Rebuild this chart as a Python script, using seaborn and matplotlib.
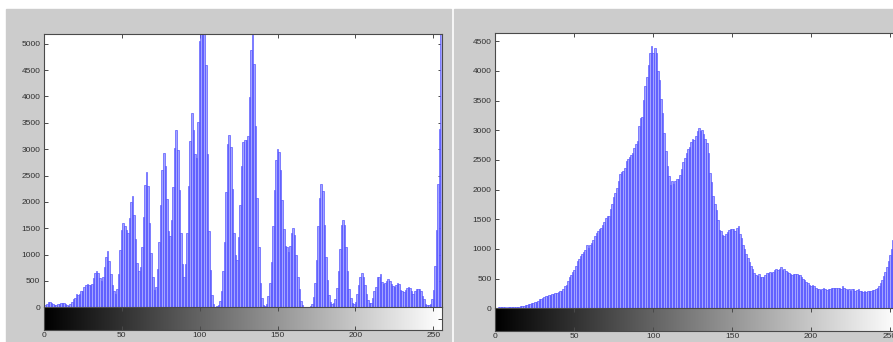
import numpy as np
import matplotlib
matplotlib.use("Agg")
import matplotlib.pyplot as plt
import seaborn as sns
from matplotlib.patches import Rectangle

# grey levels 0..255
levels = np.arange(256)

# left histogram (pixel counts per grey level)
counts_left = [
    40, 50, 60, 100, 110, 90, 60, 40, 50, 60,
    70, 90, 90, 80, 60, 40, 30, 60, 100, 160,
    180, 250, 230, 250, 300, 300, 380, 430, 440, 420,
    420, 450, 560, 650, 680, 650, 560, 500, 580, 760,
    950, 1060, 880, 640, 420, 300, 250, 350, 640, 1080,
    1470, 1600, 1550, 1460, 1400, 1700, 2000, 2120, 1760, 1300,
    840, 680, 770, 1140, 1720, 2320, 2570, 2300, 1600, 1030,
    580, 330, 380, 720, 1240, 1950, 2600, 2920, 2680, 2050,
    1450, 1360, 1650, 2280, 3020, 3360, 2980, 2230, 1410, 820,
    580, 830, 1400, 2300, 3150, 3680, 3360, 2900, 2830, 3520,
    5050, 5600, 5800, 5300, 4600, 2900, 1450, 700, 240, 60,
    10, 20, 40, 120, 300, 680, 1240, 2180, 3090, 3260,
    3050, 2240, 1400, 1000, 900, 1330, 1950, 2680, 3140, 3180,
    3170, 3240, 3980, 4880, 5180, 4620, 3430, 2080, 1150, 460,
    180, 50, 20, 60, 220, 470, 850, 1540, 2220, 2790,
    3000, 2950, 2600, 2040, 1490, 1160, 1150, 1050, 1160, 1400,
    1500, 1370, 1000, 580, 340, 120, 40, 10, 5, 5,
    10, 30, 70, 200, 470, 900, 1550, 2070, 2330, 2200,
    1560, 950, 520, 240, 100, 60, 80, 150, 360, 680,
    1100, 1560, 1660, 1560, 1150, 690, 350, 170, 80, 60,
    110, 250, 430, 570, 660, 580, 420, 250, 130, 80,
    90, 170, 300, 380, 580, 580, 640, 480, 440, 460,
    500, 530, 490, 440, 400, 380, 430, 460, 440, 320,
    300, 290, 320, 370, 390, 360, 300, 250, 300, 340,
    340, 340, 300, 220, 150, 70, 40, 40, 70, 150,
    320, 780, 1460, 2340, 3390, 5500,
]

# right histogram (smoother image)
counts_right = [
    10, 10, 15, 15, 15, 20, 15, 10, 15, 20,
    20, 20, 25, 25, 30, 30, 35, 40, 45, 50,
    60, 65, 80, 85, 90, 100, 110, 130, 150, 160,
    180, 190, 200, 210, 220, 230, 240, 245, 250, 260,
    270, 285, 300, 330, 370, 400, 460, 520, 560, 610,
    650, 720, 800, 830, 880, 920, 950, 990, 1060, 1010,
    1060, 1100, 1150, 1220, 1270, 1300, 1340, 1360, 1400, 1450,
    1520, 1550, 1560, 1670, 1760, 1880, 1940, 2030, 2140, 2260,
    2290, 2320, 2370, 2490, 2520, 2550, 2580, 2610, 2700, 2770,
    2820, 3080, 3200, 3220, 3510, 3740, 3900, 4100, 4300, 4420,
    4300, 4380, 4300, 4000, 3850, 3520, 3300, 2950, 2650, 2400,
    2230, 2080, 2150, 2100, 2140, 2180, 2180, 2250, 2340, 2460,
    2530, 2620, 2680, 2720, 2800, 2850, 2830, 2900, 2980, 3040,
    2980, 3010, 2930, 2850, 2780, 2620, 2280, 2130, 1900, 1750,
    1660, 1480, 1320, 1300, 1240, 1220, 1260, 1290, 1320, 1340,
    1340, 1330, 1300, 1350, 1380, 1260, 1180, 1070, 1000, 920,
    840, 780, 720, 660, 600, 560, 550, 570, 520, 530,
    530, 560, 590, 600, 610, 590, 620, 640, 660, 640,
    670, 690, 650, 660, 630, 620, 600, 570, 560, 570,
    570, 570, 560, 560, 530, 500, 480, 440, 420, 400,
    380, 390, 370, 340, 330, 320, 310, 330, 350, 320,
    310, 320, 330, 340, 340, 340, 340, 350, 350, 330,
    380, 340, 320, 310, 320, 300, 330, 320, 300, 310,
    320, 300, 290, 280, 290, 280, 300, 290, 300, 310,
    310, 320, 340, 380, 420, 480, 550, 620, 700, 800,
    900, 1000, 1150, 1300, 1500, 1700,
]

xticks = [0, 50, 100, 150, 200, 250]
yticks_left = list(range(0, 5001, 500))
yticks_right = list(range(0, 4501, 500))

sns.set_style("white")
plt.rcParams["font.family"] = ["Liberation Sans", "DejaVu Sans"]

fig = plt.figure(figsize=(8.93, 3.42), dpi=100)
fig.patch.set_facecolor("white")
# grey window backgrounds
fig.add_artist(Rectangle((6 / 893, 0), 445 / 893, 333 / 342,
                         transform=fig.transFigure, color="#cccccc", zorder=0))
fig.add_artist(Rectangle((454 / 893, 0), 439 / 893, 333 / 342,
                         transform=fig.transFigure, color="#cccccc", zorder=0))

spine_col = "#4a4a4a"
text_col = "#303030"
bar_fill = "#a4a4ff"
bar_edge = "#3c3cff"


def panel(rect_h, rect_c, counts, ymax, yticks):
    ax = fig.add_axes(rect_h)
    cb = fig.add_axes(rect_c)
    ax.set_facecolor("white")
    sns.barplot(x=levels, y=counts, native_scale=True, width=1.0,
                color=bar_fill, saturation=1, errorbar=None,
                edgecolor=bar_edge, linewidth=0.4, ax=ax)
    ax.set_xlim(0, 255.3)
    ax.set_ylim(0, ymax)
    ax.set_xticks(xticks)
    ax.set_xticklabels([])
    ax.set_yticks(yticks)
    ax.set_yticklabels([str(v) for v in yticks])
    ax.set_xlabel("")
    ax.set_ylabel("")
    ax.tick_params(axis="both", direction="in", length=3, width=0.7,
                   color=spine_col, labelsize=6, labelcolor=text_col, pad=2.5)
    ax.tick_params(axis="x", bottom=False, top=True)
    ax.tick_params(axis="y", left=True, right=True)
    for s in ax.spines.values():
        s.set_color(spine_col)
        s.set_linewidth(0.8)
    ax.spines["bottom"].set_visible(False)

    # grey-level colour bar under the histogram
    grad = np.linspace(0, 1, 256).reshape(1, -1)
    cb.imshow(grad, cmap="gray", aspect="auto", extent=[0, 255.3, 0, 1],
              interpolation="bilinear")
    cb.set_xlim(0, 255.3)
    cb.set_ylim(0, 1)
    cb.set_xticks(xticks)
    cb.set_xticklabels([str(v) for v in xticks])
    cb.set_yticks([0.5])
    cb.set_yticklabels([])
    cb.tick_params(axis="both", direction="in", length=3, width=0.7,
                   color=spine_col, labelsize=6, labelcolor=text_col, pad=1.5)
    cb.tick_params(axis="x", bottom=True, top=True)
    cb.tick_params(axis="y", left=False, right=True)
    for s in cb.spines.values():
        s.set_color(spine_col)
        s.set_linewidth(0.8)
    return ax


panel([43.7 / 893, 34.7 / 342, 398 / 893, 273.6 / 342],
      [43.7 / 893, 11.7 / 342, 398 / 893, 23 / 342],
      counts_left, 5190, yticks_left)
panel([495.3 / 893, 33.7 / 342, 403 / 893, 275.3 / 342],
      [495.3 / 893, 11 / 342, 403 / 893, 22.7 / 342],
      counts_right, 4640, yticks_right)

fig.savefig("out.png", dpi=100)
